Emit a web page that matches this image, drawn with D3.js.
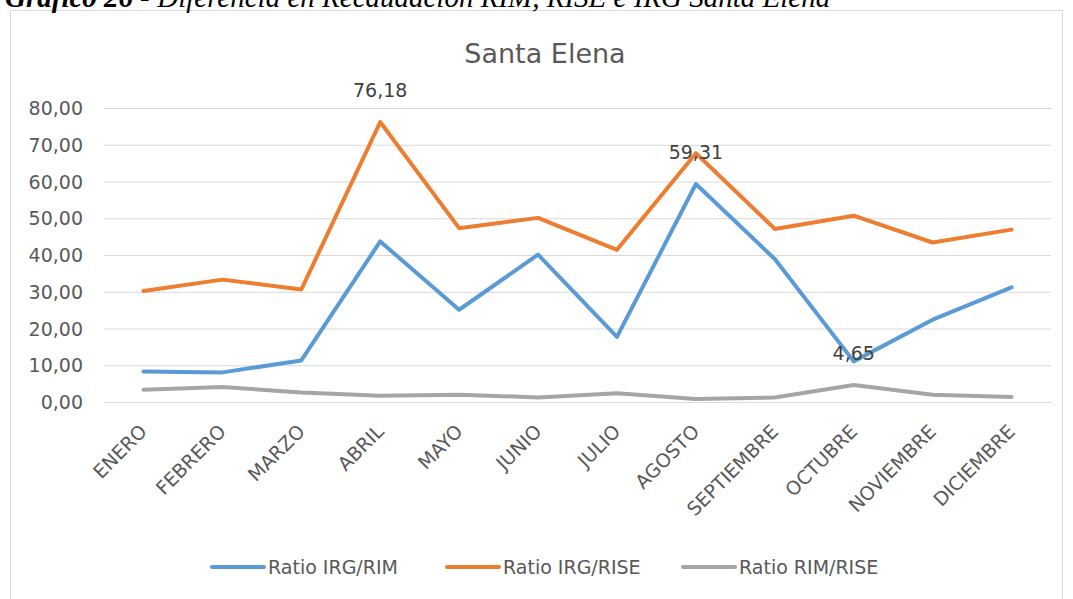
<!DOCTYPE html>
<html>
<head>
<meta charset="utf-8">
<script src="https://cdn.jsdelivr.net/npm/d3@7"></script>
<style>
  body { margin: 0; background: #fff; }
  svg { display: block; }
  .grid line { stroke: #d9d9d9; stroke-width: 1; }
  .tick-label { font-family: "DejaVu Sans", sans-serif; fill: #595959; }
</style>
</head>
<body>
<svg></svg>
<script>
// months on the x axis
const months = ['ENERO', 'FEBRERO', 'MARZO', 'ABRIL', 'MAYO', 'JUNIO', 'JULIO',
  'AGOSTO', 'SEPTIEMBRE', 'OCTUBRE', 'NOVIEMBRE', 'DICIEMBRE'];

// series values
const irgRim = [8.33, 8.06, 11.3, 43.7, 25.1, 40.1, 17.7, 59.31, 38.9, 11.05, 22.4, 31.2];
const irgRise = [30.2, 33.3, 30.6, 76.18, 47.3, 50.1, 41.4, 67.7, 47.1, 50.7, 43.4, 46.9];
const rimRise = [3.35, 4.1, 2.6, 1.7, 2.0, 1.25, 2.4, 0.8, 1.25, 4.65, 2.0, 1.35];

const seriesNames = ['Ratio IRG/RIM', 'Ratio IRG/RISE', 'Ratio RIM/RISE'];
const yTicks = [0, 10, 20, 30, 40, 50, 60, 70, 80];

// which points carry a data label: [series index, month index]
const labelled = [[1, 3], [0, 7], [2, 9]];

const series = [irgRim, irgRise, rimRise].map((vals, i) => ({ name: seriesNames[i], values: vals }));

const W = 1073, H = 599;
const margin = {top: 108, right: 22, bottom: 197, left: 104};
const width = W - margin.left - margin.right,
  height = H - margin.top - margin.bottom;

const colorScale = d3.scaleOrdinal()
  .domain(seriesNames)
  .range(['#5b9bd5', '#ed7d31', '#a5a5a5']);

const xScale = d3.scaleBand()
  .domain(months)
  .range([0, width]);

const yScale = d3.scaleLinear()
  .domain([0, 80])
  .range([height, 0]);

const fmt = v => v.toFixed(2).replace('.', ',');

const container = d3.select('svg')
  .attr('width', W)
  .attr('height', H);

// chart frame
container.append('rect')
  .attr('x', 10.5).attr('y', 10.5)
  .attr('width', 1052).attr('height', 600)
  .attr('fill', 'none')
  .attr('stroke', '#d9d9d9');

// caption above the chart, clipped by the top edge like in the source
const cap = container.append('text')
  .attr('x', 5)
  .attr('y', 7)
  .attr('font-family', '"Liberation Serif", serif')
  .attr('font-size', 29)
  .attr('font-style', 'italic');
cap.append('tspan').attr('font-weight', 'bold').text('Gráfico 26 - ');
cap.append('tspan').text('Diferencia en Recaudación RIM, RISE e IRG Santa Elena');

// title
container.append('text')
  .attr('x', 545)
  .attr('y', 63)
  .attr('text-anchor', 'middle')
  .attr('font-family', '"DejaVu Sans", sans-serif')
  .attr('font-size', 27)
  .attr('fill', '#595959')
  .text('Santa Elena');

const plot = container.append('g')
  .attr('transform', 'translate(' + margin.left + ',' + margin.top + ')');

// gridlines + y labels
const yAxis = plot.append('g')
  .attr('class', 'grid')
  .call(d3.axisLeft(yScale).tickValues(yTicks).tickSize(-width).tickFormat(fmt));
yAxis.select('.domain').remove();
yAxis.selectAll('.tick text')
  .attr('class', 'tick-label')
  .attr('x', -21)
  .attr('dy', '0.35em')
  .attr('font-size', 19);

// x labels, rotated
const xAxis = plot.append('g')
  .attr('transform', 'translate(0,' + height + ')')
  .call(d3.axisBottom(xScale).tickSize(0));
xAxis.select('.domain').remove();
xAxis.selectAll('.tick text')
  .attr('class', 'tick-label')
  .attr('font-size', 19)
  .attr('text-anchor', 'end')
  .attr('transform', 'translate(0,26) rotate(-45)')
  .attr('x', 0).attr('y', 0).attr('dy', '0.35em');

// lines
const line = d3.line()
  .x((d, i) => xScale(months[i]) + xScale.bandwidth() / 2)
  .y(d => yScale(d));

plot.selectAll('.series')
  .data(series)
  .enter()
  .append('path')
  .attr('class', 'series')
  .attr('fill', 'none')
  .attr('stroke', d => colorScale(d.name))
  .attr('stroke-width', 4)
  .attr('stroke-linejoin', 'round')
  .attr('stroke-linecap', 'round')
  .attr('d', d => line(d.values));

// data labels
plot.selectAll('.dlabel')
  .data(labelled)
  .enter()
  .append('text')
  .attr('class', 'dlabel')
  .attr('x', d => xScale(months[d[1]]) + xScale.bandwidth() / 2)
  .attr('y', d => yScale(series[d[0]].values[d[1]]) - 25)
  .attr('text-anchor', 'middle')
  .attr('font-family', '"DejaVu Sans", sans-serif')
  .attr('font-size', 19)
  .attr('fill', '#404040')
  .text(d => fmt(series[d[0]].values[d[1]]));

// legend
const legendX = [212, 447, 683];
const legend = container.selectAll('.legend')
  .data(series)
  .enter()
  .append('g')
  .attr('class', 'legend')
  .attr('transform', (d, i) => 'translate(' + legendX[i] + ',567)');
legend.append('line')
  .attr('x1', 0).attr('x2', 52)
  .attr('stroke', d => colorScale(d.name))
  .attr('stroke-width', 4)
  .attr('stroke-linecap', 'round');
legend.append('text')
  .attr('x', 56)
  .attr('dy', '0.35em')
  .attr('font-family', '"DejaVu Sans", sans-serif')
  .attr('font-size', 19)
  .attr('fill', '#595959')
  .text(d => d.name);
</script>
</body>
</html>
